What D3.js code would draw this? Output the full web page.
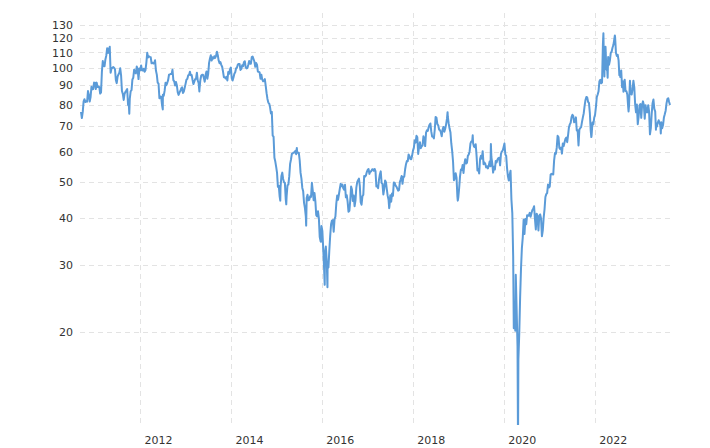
<!DOCTYPE html>
<html><head><meta charset="utf-8">
<script src="https://cdn.jsdelivr.net/npm/d3@7"></script>
<style>body{margin:0;background:#fff}svg{display:block}</style>
</head><body>
<svg id="chart" width="710" height="448"></svg>
<script>
// Weekly (Friday) WTI crude oil closes, USD/barrel, one array per year
const yearStarts = {2010:"2010-09-10",2011:"2011-01-07",2012:"2012-01-06",2013:"2013-01-04",2014:"2014-01-03",2015:"2015-01-02",2016:"2016-01-08",2017:"2017-01-06",2018:"2018-01-05",2019:"2019-01-04",2020:"2020-01-03",2021:"2021-01-01",2022:"2022-01-07",2023:"2023-01-06"};
const wti2010 = [76.5,73.7,76.5,81.6,82.7,81.3,81.7,81.4,86.9,84.9,81.5,83.8,89.2,87.8,88.0,91.5,91.4];
const wti2011 = [88.0,91.5,89.1,89.3,89.0,85.6,86.2,97.9,104.4,101.2,101.1,105.4,107.9,112.8,109.7,112.3,113.9,97.2,99.7,100.1,100.6,100.2,99.3,93.0,91.2,94.9,96.2,97.2,99.9,95.7,86.9,85.4,82.3,85.4,86.5,87.2,88.0,79.9,79.2,83.0,86.8,87.4,93.3,94.3,99.0,97.4,96.8,101.0,99.4,93.5,99.7,98.8];
const wti2012 = [101.6,98.7,98.5,99.6,97.8,98.7,103.2,109.8,106.7,107.4,107.1,106.9,103.0,103.3,102.8,103.1,104.9,98.5,96.1,91.5,90.9,83.2,84.1,84.0,79.8,85.0,84.5,87.1,91.4,90.1,91.4,92.9,96.0,96.2,96.5,96.4,99.0,92.9,92.2,89.9,91.9,90.1,86.3,84.9,86.1,86.9,88.3,88.9,85.9,86.7,88.7,90.8];
const wti2013 = [93.1,93.6,95.6,95.9,97.8,95.7,95.9,93.1,90.7,92.0,93.5,93.7,97.2,92.7,91.3,88.0,93.0,95.6,96.0,96.0,94.2,92.0,96.0,97.9,93.7,96.6,103.2,106.0,108.1,104.7,106.9,106.0,107.5,106.4,107.7,110.5,108.2,104.7,103.0,103.8,102.0,100.8,97.9,94.6,94.6,93.8,94.8,92.7,97.7,96.6,99.3,100.3];
const wti2014 = [94.0,92.7,94.4,96.6,97.5,99.9,100.3,102.2,102.6,102.6,98.9,99.5,101.7,101.1,103.7,104.3,100.6,99.8,100.0,102.0,104.4,102.7,102.7,106.9,107.3,105.7,104.1,100.8,103.1,102.1,97.9,97.7,97.4,93.7,96.0,93.3,92.3,92.4,93.5,89.7,85.8,82.8,81.0,80.5,78.7,75.8,76.5,66.2,65.8,57.8,56.5,54.7];
const wti2015 = [52.7,48.4,48.7,45.6,48.2,51.7,52.8,50.8,49.8,49.6,44.8,45.7,48.9,49.1,51.6,55.7,57.2,59.2,59.4,59.7,59.7,60.3,59.1,60.0,59.6,59.6,56.9,52.7,50.9,48.1,47.1,43.9,42.5,40.5,45.2,46.1,44.6,44.7,45.7,45.5,49.6,47.3,44.6,46.6,44.3,40.7,40.4,41.7,40.0,35.6,34.7,38.1,37.0];
const wti2016 = [33.2,29.4,32.2,33.6,30.9,29.4,29.6,32.8,35.9,38.5,39.4,39.5,36.8,39.7,40.4,43.7,45.9,44.7,46.2,47.8,49.3,48.6,49.1,48.0,47.6,49.0,45.4,46.0,44.2,41.6,41.8,44.5,48.5,47.6,44.4,45.9,43.0,44.5,48.2,49.8,50.4,50.9,48.7,44.1,43.4,45.7,46.1,51.7,51.5,51.9,53.0,53.7];
const wti2017 = [54.0,52.4,53.2,53.2,53.8,53.9,53.4,54.0,53.3,48.5,48.8,48.0,50.6,52.2,53.2,49.6,49.3,46.2,47.8,50.3,49.8,47.7,45.8,44.7,43.0,46.0,44.2,46.5,45.8,49.7,49.6,48.8,48.5,47.9,47.3,47.5,49.9,50.7,51.7,49.3,51.5,51.5,53.9,55.6,56.7,56.6,59.0,58.4,57.4,57.3,58.5,60.4];
const wti2018 = [61.4,64.3,63.4,66.1,65.5,59.2,61.7,63.6,61.3,62.0,62.3,65.9,64.9,62.1,67.4,68.4,68.1,69.7,70.7,71.3,67.9,65.8,65.7,65.1,68.6,74.2,73.8,71.0,70.5,68.7,68.5,67.6,65.9,68.7,69.8,67.8,69.0,70.8,73.3,74.3,71.3,69.1,67.6,63.1,60.2,56.5,50.4,50.9,52.6,51.2,45.6,45.3];
const wti2019 = [48.0,51.6,53.8,53.7,55.3,52.7,55.6,57.3,55.8,56.1,58.5,59.0,60.1,63.1,63.9,64.0,63.3,61.9,61.7,62.8,58.6,53.5,54.0,52.5,57.4,58.5,57.5,60.2,55.6,56.2,55.7,54.5,54.9,54.2,55.1,56.5,54.9,58.1,55.9,52.8,54.7,53.8,56.7,56.2,57.2,57.7,57.8,55.2,59.2,60.1,60.4,61.7];
const wti2020 = [63.1,59.0,58.5,54.2,51.6,50.3,52.1,53.4,44.8,41.3,31.7,22.4,21.5,28.3,22.8,18.3,16.9,19.8,24.7,29.4,33.3,35.5,39.6,36.3,39.8,38.5,40.7,40.6,40.6,41.3,40.3,41.2,42.0,42.3,43.0,39.8,37.3,41.1,40.3,37.1,40.6,40.9,39.9,35.8,37.1,40.1,42.2,45.5,46.3,46.6,49.1,48.2];
const wti2021 = [48.5,52.2,52.4,52.3,52.2,56.9,59.5,59.2,61.5,66.1,65.6,61.4,61.0,61.5,59.3,63.1,62.1,63.6,64.9,65.4,63.6,66.3,69.6,70.9,71.6,74.1,75.2,74.6,71.8,72.1,74.0,68.3,68.4,62.3,68.7,69.3,69.7,72.0,74.0,75.9,79.4,82.3,83.8,83.6,81.3,80.8,76.1,68.2,66.3,71.7,70.9,73.8,75.2];
const wti2022 = [78.9,83.8,85.1,86.8,92.3,93.1,91.1,91.6,115.7,109.3,104.7,113.9,99.3,98.3,107.0,102.1,104.7,109.8,110.5,113.2,115.1,118.9,120.7,109.6,107.6,108.4,104.8,97.6,94.7,98.6,89.0,92.1,90.8,93.1,86.9,86.8,85.1,78.7,79.5,92.6,85.6,85.1,87.9,92.6,89.0,80.1,76.3,80.0,71.0,74.3,79.6,80.3];
const wti2023 = [73.8,79.9,81.6,79.7,73.4,79.7,76.3,76.3,79.7,76.7,66.7,69.3,75.7,80.7,82.5,77.9,76.8,71.3,70.0,71.7,72.7,71.7,70.2,71.8,69.2,70.6,73.9,75.4,77.1,80.6,82.8,83.2,81.3,79.8];
// Notable daily closes between the weekly points
const dailyExtremes = [["2011-10-03",75.7],["2012-06-28",77.7],["2013-04-18",86.7],["2015-01-28",44.5],["2015-03-17",43.5],["2015-06-10",61.4],["2015-08-24",38.2],["2015-12-21",34.6],["2016-01-20",26.6],["2016-02-11",26.2],["2017-06-21",42.5],["2018-10-03",76.4],["2018-12-24",44.5],["2019-04-23",66.3],["2019-09-16",62.9],["2020-03-18",20.4],["2020-03-30",20.1],["2020-04-02",25.3],["2020-04-21",10.0],["2021-12-01",65.6],["2022-03-08",123.7],["2022-03-16",95.0],["2022-04-11",94.3],["2022-06-08",122.1],["2022-07-14",95.8],["2022-08-16",86.5],["2022-09-26",76.7],["2023-05-04",68.6],["2023-06-12",67.1]];
const yTickValues = [20,30,40,50,60,70,80,90,100,110,120,130];
const xTickYears = [2012,2014,2016,2018,2020,2022];

const yearly = {2010:wti2010,2011:wti2011,2012:wti2012,2013:wti2013,2014:wti2014,2015:wti2015,2016:wti2016,2017:wti2017,2018:wti2018,2019:wti2019,2020:wti2020,2021:wti2021,2022:wti2022,2023:wti2023};
const parse = d3.utcParse("%Y-%m-%d");
let data = [];
Object.keys(yearly).forEach(yr => {
  const s = parse(yearStarts[yr]);
  yearly[yr].forEach((v,i) => data.push({date: d3.utcDay.offset(s, 7*i), value: v}));
});
dailyExtremes.forEach(([d,v]) => data.push({date: parse(d), value: v}));
data.sort((a,b) => a.date - b.date);

const L = 80, R = 670, T = 13, B = 425;
const svg = d3.select("#chart");
const x = d3.scaleUtc().domain(d3.extent(data, d => d.date)).range([81, R]);
const y = d3.scaleLog().domain([11.3, 140]).range([B, T]);

const grid = svg.append("g");
grid.selectAll(".hg").data(yTickValues).join("line")
  .attr("x1", L).attr("x2", R).attr("y1", d => Math.round(y(d))+0.5).attr("y2", d => Math.round(y(d))+0.5)
  .attr("stroke", "#e3e3e3").attr("stroke-width", 1).attr("stroke-dasharray", "5,4");
grid.selectAll(".vg").data(xTickYears).join("line")
  .attr("x1", d => Math.round(x(new Date(Date.UTC(d,0,1))))+0.5).attr("x2", d => Math.round(x(new Date(Date.UTC(d,0,1))))+0.5)
  .attr("y1", T).attr("y2", B)
  .attr("stroke", "#e3e3e3").attr("stroke-width", 1).attr("stroke-dasharray", "5,4");

const yAxis = svg.append("g").attr("transform", `translate(${L},0)`)
  .call(d3.axisLeft(y).tickValues(yTickValues).tickFormat(d3.format("d")).tickSize(0).tickPadding(7));
yAxis.select(".domain").remove();
yAxis.selectAll("text").attr("fill", "#333").style("font-family", "DejaVu Sans, Verdana, sans-serif").style("font-size", "11px");

const xAxis = svg.append("g").attr("transform", `translate(0,${B})`)
  .call(d3.axisBottom(x).tickValues(xTickYears.map(yr => new Date(Date.UTC(yr,0,1)))).tickFormat(d3.utcFormat("%Y")).tickSize(0).tickPadding(11));
xAxis.select(".domain").remove();
xAxis.selectAll("text").attr("text-anchor", "start").attr("x", 3.5).attr("fill", "#333")
  .style("font-family", "DejaVu Sans, Verdana, sans-serif").style("font-size", "11px");

svg.append("clipPath").attr("id", "clip").append("rect").attr("x", L).attr("y", T).attr("width", R - L + 2).attr("height", B - T);
svg.append("path").datum(data).attr("clip-path", "url(#clip)")
  .attr("fill", "none").attr("stroke", "#5b9bd8").attr("stroke-width", 2).attr("stroke-linejoin", "round")
  .attr("d", d3.line().x(d => x(d.date)).y(d => y(d.value)));
</script>
</body></html>
